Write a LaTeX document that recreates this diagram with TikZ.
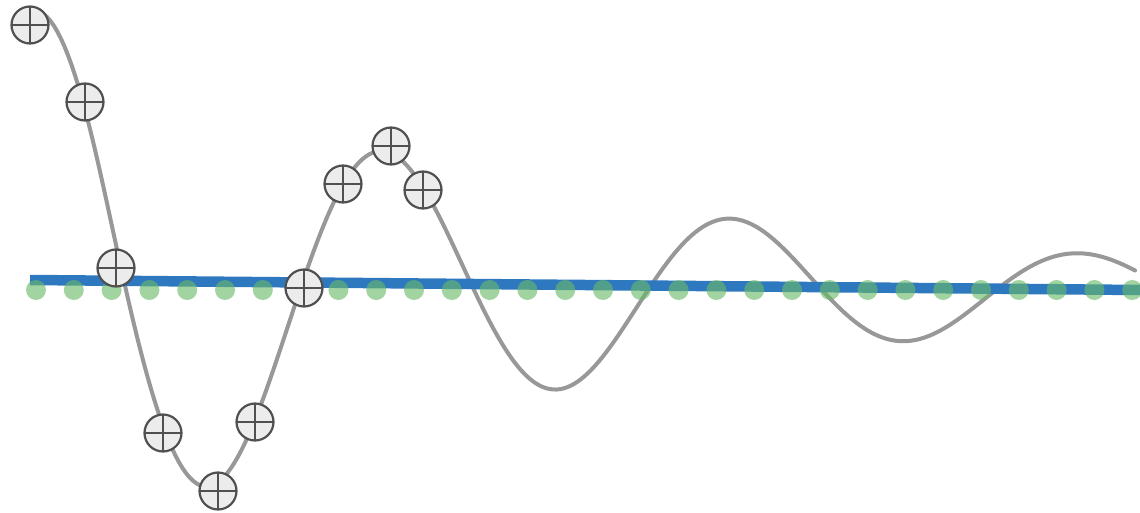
\documentclass[tikz,border=0pt]{standalone}
\usetikzlibrary{calc}
\definecolor{curvegray}{RGB}{152,152,152}
\definecolor{lineblue}{RGB}{45,120,190}
\definecolor{dotgreen}{RGB}{105,185,105}
\definecolor{ringfill}{RGB}{236,236,236}
\definecolor{ringdraw}{RGB}{80,80,80}
\tikzset{
  wave/.style={draw=curvegray, line width=4pt, line cap=round},
  fitline/.style={draw=lineblue, line width=10.5pt},
  gdot/.style={circle, fill=dotgreen, fill opacity=0.62, inner sep=0pt, minimum size=20pt},
  oplus/.style={circle, draw=ringdraw, fill=ringfill, line width=2.2pt, inner sep=0pt,
    minimum size=37pt,
    path picture={\draw[ringdraw, line width=2.2pt]
      (path picture bounding box.north) -- (path picture bounding box.south)
      (path picture bounding box.west) -- (path picture bounding box.east);}}
}
\begin{document}
\begin{tikzpicture}[x=1pt, y=-1pt]
\useasboundingbox (0,0) rectangle (1140,513);
% damped wave
\draw[wave] plot[domain=30:1135, samples=320, variable=\x]
  (\x, {290 - 100*exp(0.0019*(555-\x))*(1+0.1/(1+((\x-100)/50)^2))*sin(((\x-300)/348)*360)});
% fitted line
\coordinate (bl) at (30,280);
\coordinate (br) at (1140,290);
\draw[fitline] (bl) -- (br);
% green dots
\foreach \i in {0,...,29} {
  \node[gdot] (g\i) at ({36+37.8*\i},290) {};
}
% sample points
\node[oplus] (c1) at (30,25) {};
\node[oplus] (c2) at (85,102) {};
\node[oplus] (c3) at (116,268) {};
\node[oplus] (c4) at (163,433) {};
\node[oplus] (c5) at (218,491) {};
\node[oplus] (c6) at (255,422) {};
\node[oplus] (c7) at (304,288) {};
\node[oplus] (c8) at (343,184) {};
\node[oplus] (c9) at (391,146) {};
\node[oplus] (c10) at (423,190) {};
\end{tikzpicture}
\end{document}
